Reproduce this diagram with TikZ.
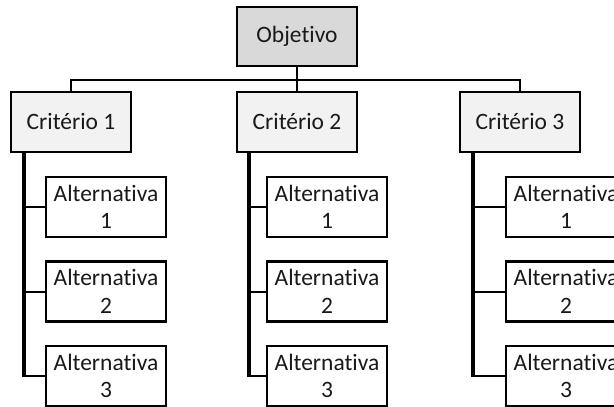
\documentclass[tikz,border=0pt]{standalone}
\usepackage{fontspec}
\setmainfont{Carlito}[Ligatures=NoCommon]
\begin{document}
\begin{tikzpicture}[x=1pt,y=-1pt,
  box/.style={draw=black,line width=2.2pt,minimum width=120pt,inner sep=0pt,align=center,
    font=\fontsize{23.5}{27.5}\selectfont,text=black!90},
  objbox/.style={box,fill={rgb,255:red,217;green,217;blue,217},minimum height=59pt},
  critbox/.style={box,fill={rgb,255:red,242;green,242;blue,242},minimum height=60pt},
  altbox/.style={box,fill=white,minimum height=60pt},
  busline/.style={line width=2.2pt},
  vline/.style={line width=3.2pt},
  hline/.style={line width=2pt}]
\useasboundingbox (0,0) rectangle (614,407);
\clip (0,0) rectangle (614,407);
\node[objbox] (obj) at (297,36.5) {Objetivo};
\node[critbox] (c1) at (71,122) {Critério 1};
\node[critbox] (c2) at (297,122) {Critério 2};
\node[critbox] (c3) at (520,122) {Critério 3};
\coordinate (objbus) at (297,80);
% alternatives
\foreach \c/\x in {1/106,2/327,3/566}{
  \node[altbox] (a\c1) at (\x,207) {Alternativa\\1};
  \node[altbox] (a\c2) at (\x,291.5) {Alternativa\\2};
  \node[altbox] (a\c3) at (\x,376) {Alternativa\\3};
}
\coordinate (v1) at (24,152);
\coordinate (v2) at (249,152);
\coordinate (v3) at (473,152);
% bus
\draw[busline] (obj.south) -- (objbus);
\draw[busline] (c1.north) -- (c1.north |- objbus) -- (c3.north |- objbus) -- (c3.north);
\draw[busline] (c2.north) -- (c2.north |- objbus);
% branches
\foreach \c in {1,2,3}{
  \draw[vline] (v\c) -- (v\c |- a\c3.west);
  \foreach \k in {1,2,3}{
    \draw[hline] ([xshift=-1.6pt]v\c |- a\c\k.west) -- (a\c\k.west);
  }
}
\end{tikzpicture}
\end{document}
